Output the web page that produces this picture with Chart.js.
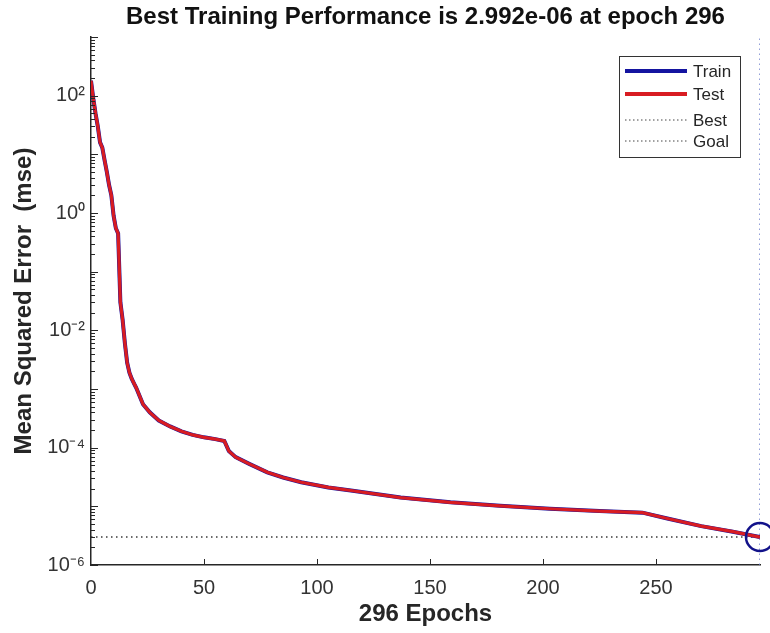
<!DOCTYPE html>
<html>
<head>
<meta charset="utf-8">
<script src="https://cdn.jsdelivr.net/npm/chart.js@4.4.1/dist/chart.umd.min.js"></script>
<style>
  html, body { margin: 0; padding: 0; background: #fff; }
  canvas { display: block; }
</style>
</head>
<body>
<canvas id="perfChart" width="770" height="633"></canvas>
<script>
const epochs = [0, 1, 2, 3, 4, 5, 6, 7, 8, 9, 10, 11, 12, 13, 14, 15, 16, 17, 18, 19, 20, 23, 26, 30, 35, 40, 45, 50, 55, 59, 61, 64, 70, 78, 85, 93, 105, 115, 137, 159, 181, 203, 225, 244, 255, 270, 284, 296];
const trainMse = [180, 90, 50, 30, 16, 13, 8, 5, 3.0, 2.0, 0.9, 0.55, 0.45, 0.03, 0.015, 0.006, 0.0028, 0.0019, 0.0015, 0.00125, 0.00105, 0.00055, 0.0004, 0.00029, 0.00023, 0.00019, 0.000165, 0.00015, 0.00014, 0.00013, 0.0000875, 0.000069, 0.000053, 0.000038, 0.000031, 0.0000257, 0.000021, 0.0000186, 0.0000141, 0.0000117, 0.0000102, 0.0000091, 0.0000083, 0.0000078, 0.0000062, 0.0000046, 0.0000037, 0.000002992];
const testMse = [180, 90, 50, 30, 16, 13, 8, 5, 3.0, 2.0, 0.9, 0.55, 0.45, 0.03, 0.015, 0.006, 0.0028, 0.0019, 0.0015, 0.00125, 0.00105, 0.00055, 0.0004, 0.00029, 0.00023, 0.00019, 0.000165, 0.00015, 0.00014, 0.00013, 0.0000875, 0.000069, 0.000053, 0.000038, 0.000031, 0.0000257, 0.000021, 0.0000186, 0.0000141, 0.0000117, 0.0000102, 0.0000091, 0.0000083, 0.0000078, 0.0000062, 0.0000046, 0.0000037, 0.000002992];

const bestEpoch = 296;
const bestPerf = 2.992e-6;
const goalPerf = 3.0e-6;

const xTickValues = [0, 50, 100, 150, 200, 250];
const yTickValues = [1e-6, 1e-4, 1e-2, 1, 1e2];
const yTickLabels = ['10⁻⁶', '10⁻⁴', '10⁻²', '10⁰', '10²'];
const yMin = 1e-6;
const yMax = 1e3;

const FONT = "'Liberation Sans', Arial, Helvetica, sans-serif";
Chart.defaults.font.family = FONT;
Chart.defaults.color = '#262626';

const toPoints = (xs, ys) => xs.map((x, i) => ({x: x, y: ys[i]}));

// inward tick marks and boxed legend, like the matlab figure
const matlabAxes = {
  id: 'matlabAxes',
  afterDraw(chart){
    const ctx = chart.ctx;
    const area = chart.chartArea;
    const yScale = chart.scales.y;
    const xScale = chart.scales.x;

    ctx.save();
    ctx.strokeStyle = '#262626';
    ctx.lineWidth = 1;
    ctx.beginPath();
    for (let e = -6; e <= 3; e++) {
      for (let m = 1; m <= 9; m++) {
        const v = m * Math.pow(10, e);
        if (v > yMax) break;
        const py = Math.round(yScale.getPixelForValue(v)) + 0.5;
        const len = m === 1 ? 7 : 4;
        ctx.moveTo(area.left, py);
        ctx.lineTo(area.left + len, py);
      }
    }
    xTickValues.forEach(v => {
      if (v === 0) return;
      const px = Math.round(xScale.getPixelForValue(v)) + 0.5;
      ctx.moveTo(px, area.bottom);
      ctx.lineTo(px, area.bottom - 6);
    });
    ctx.stroke();

    // legend
    const box = {left: 619, top: 56, right: 740, bottom: 157};
    const rows = [71, 94, 120, 141];
    ctx.fillStyle = '#fff';
    ctx.fillRect(box.left, box.top, box.right - box.left, box.bottom - box.top);
    ctx.strokeStyle = '#333';
    ctx.lineWidth = 1;
    ctx.strokeRect(box.left + 0.5, box.top + 0.5, box.right - box.left, box.bottom - box.top);

    const items = chart.data.datasets.filter(d => d.label);
    ctx.font = '17px ' + FONT;
    ctx.textBaseline = 'middle';
    ctx.textAlign = 'left';
    items.forEach((d, i) => {
      const y = rows[i];
      ctx.beginPath();
      ctx.setLineDash(d.legendDash || []);
      ctx.strokeStyle = d.legendColor || d.borderColor;
      ctx.lineWidth = d.legendWidth || d.borderWidth;
      ctx.moveTo(625, y);
      ctx.lineTo(687, y);
      ctx.stroke();
      ctx.setLineDash([]);
      ctx.fillStyle = '#262626';
      ctx.fillText(d.label, 693, y + 1);
    });
    ctx.restore();
  }
};

const ctx = document.getElementById('perfChart').getContext('2d');

const chart = new Chart(ctx, {
  type: 'line',
  data: {
    datasets: [
      {
        label: 'Train',
        data: toPoints(epochs, trainMse),
        borderColor: '#1414a0',
        borderWidth: 4,
        legendWidth: 4,
        pointRadius: 0,
        tension: 0,
        order: 4,
      },
      {
        label: 'Test',
        data: toPoints(epochs, testMse),
        borderColor: '#d81c22',
        borderWidth: 3.2,
        legendWidth: 4,
        pointRadius: 0,
        tension: 0,
        order: 3,
      },
      {
        label: 'Best',
        data: [{x: bestEpoch, y: yMin}, {x: bestEpoch, y: yMax}],
        borderColor: '#7080cc',
        borderWidth: 1.5,
        borderDash: [1.5, 3.5],
        legendColor: '#444',
        legendWidth: 1,
        legendDash: [1.5, 2.5],
        pointRadius: 0,
        order: 6,
      },
      {
        label: 'Goal',
        data: [{x: 0, y: goalPerf}, {x: bestEpoch, y: goalPerf}],
        borderColor: '#3a3a3a',
        borderWidth: 1.5,
        borderDash: [1.5, 3.5],
        legendColor: '#444',
        legendWidth: 1,
        legendDash: [1.5, 2.5],
        pointRadius: 0,
        order: 5,
      },
      {
        label: '',
        data: [{x: bestEpoch, y: bestPerf}],
        showLine: false,
        pointRadius: 14,
        pointBorderWidth: 2.5,
        pointBorderColor: '#12128a',
        pointBackgroundColor: 'rgba(0,0,0,0)',
        clip: false,
        order: 1,
      }
    ]
  },
  options: {
    responsive: false,
    animation: false,
    layout: {
      autoPadding: false,
      padding: {left: 0, right: 10, top: 0, bottom: 0}
    },
    plugins: {
      legend: {display: false},
      title: {display: false},
      tooltip: {enabled: false},
    },
    scales: {
      x: {
        type: 'linear',
        position: 'bottom',
        min: 0,
        max: bestEpoch,
        afterBuildTicks: scale => { scale.ticks = xTickValues.map(v => ({value: v})); },
        afterFit: scale => {
          scale.height = 68;
          scale.paddingLeft = 0;
          scale.paddingRight = 0;
        },
        ticks: {
          padding: 11,
          maxRotation: 0,
          color: '#333',
          font: {size: 20},
        },
        grid: {drawOnChartArea: false, drawTicks: false},
        border: {color: '#262626', width: 1.5},
        title: {
          display: true,
          text: '296 Epochs',
          color: '#262626',
          font: {size: 24, weight: 'bold'},
          padding: {top: 0, bottom: 4},
        }
      },
      top: {
        type: 'linear',
        position: 'top',
        min: 0,
        max: 1,
        afterFit: scale => {
          scale.height = 37;
          scale.paddingLeft = 0;
          scale.paddingRight = 0;
        },
        ticks: {display: false},
        grid: {display: false, drawTicks: false},
        border: {display: false},
        title: {
          display: true,
          text: 'Best Training Performance is 2.992e-06 at epoch 296',
          color: '#111',
          font: {size: 24, weight: 'bold'},
          padding: {top: 3, bottom: 0},
        }
      },
      y: {
        type: 'logarithmic',
        position: 'left',
        min: yMin,
        max: yMax,
        afterBuildTicks: scale => { scale.ticks = yTickValues.map(v => ({value: v})); },
        afterFit: scale => { scale.width = 91; },
        ticks: {
          padding: 6,
          color: '#333',
          font: {size: 20},
          callback: (value) => {
            const i = yTickValues.findIndex(v => Math.abs(Math.log10(v) - Math.log10(value)) < 1e-6);
            return i >= 0 ? yTickLabels[i] : '';
          }
        },
        grid: {drawOnChartArea: false, drawTicks: false},
        border: {color: '#262626', width: 1.5},
        title: {
          display: true,
          text: 'Mean Squared Error  (mse)',
          color: '#262626',
          font: {size: 24, weight: 'bold'},
          padding: {top: 10, bottom: 0},
        }
      }
    }
  },
  plugins: [matlabAxes]
});
</script>
</body>
</html>
